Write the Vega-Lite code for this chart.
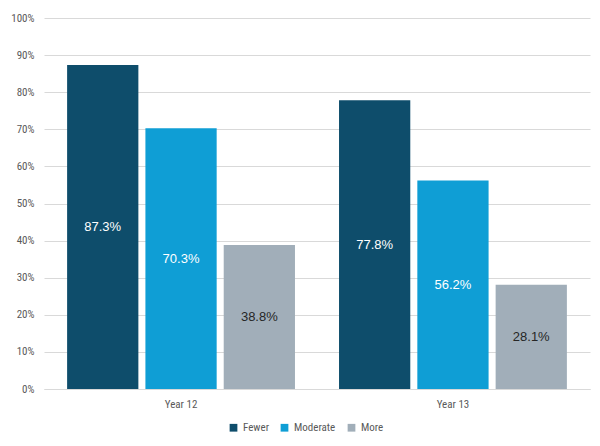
{
  "$schema": "https://vega.github.io/schema/vega-lite/v6.json",
  "width": 600,
  "height": 446,
  "autosize": {"type": "fit", "contains": "padding"},
  "padding": {"left": 10, "right": 10, "top": 12, "bottom": 37},
  "background": "white",
  "config": {
    "view": {"stroke": null},
    "font": "Liberation Sans Narrow, Roboto Condensed, DejaVu Sans Condensed, Liberation Sans"
  },
  "data": {
    "values": [
      {"year": "Year 12", "level": "Fewer", "value": 87.3},
      {"year": "Year 12", "level": "Moderate", "value": 70.3},
      {"year": "Year 12", "level": "More", "value": 38.8},
      {"year": "Year 13", "level": "Fewer", "value": 77.8},
      {"year": "Year 13", "level": "Moderate", "value": 56.2},
      {"year": "Year 13", "level": "More", "value": 28.1}
    ]
  },
  "encoding": {
    "x": {
      "field": "year",
      "type": "nominal",
      "scale": {"paddingInner": 0.162, "paddingOuter": 0.085},
      "axis": {
        "title": null,
        "labelAngle": 0,
        "labelFontSize": 11,
        "labelColor": "#595959",
        "labelPadding": 9,
        "ticks": false,
        "domainColor": "#d9d9d9"
      }
    },
    "xOffset": {
      "field": "level",
      "type": "nominal",
      "sort": ["Fewer", "Moderate", "More"],
      "scale": {"paddingInner": 0.09, "paddingOuter": 0}
    },
    "y": {
      "field": "value",
      "type": "quantitative",
      "scale": {"domain": [0, 100]},
      "axis": {
        "title": null,
        "values": [0, 10, 20, 30, 40, 50, 60, 70, 80, 90, 100],
        "labelOverlap": false,
        "labelExpr": "datum.value + '%'",
        "labelFontSize": 11,
        "labelColor": "#595959",
        "labelPadding": 10,
        "ticks": false,
        "domain": false,
        "gridColor": "#d9d9d9"
      }
    }
  },
  "layer": [
    {
      "mark": {"type": "bar"},
      "encoding": {
        "color": {
          "field": "level",
          "type": "nominal",
          "sort": ["Fewer", "Moderate", "More"],
          "scale": {
            "domain": ["Fewer", "Moderate", "More"],
            "range": ["#0E4D6B", "#0F9ED5", "#A1AEB9"]
          },
          "legend": {
            "title": null,
            "orient": "none",
            "legendX": 184,
            "legendY": 404,
            "direction": "horizontal",
            "symbolType": "square",
            "symbolSize": 60,
            "symbolStrokeWidth": 0,
            "labelFontSize": 11,
            "labelColor": "#595959",
            "columnPadding": 10
          }
        }
      }
    },
    {
      "transform": [
        {"calculate": "datum.value / 2", "as": "mid"},
        {"calculate": "format(datum.value, '.1f') + '%'", "as": "label"}
      ],
      "mark": {"type": "text", "fontSize": 13, "font": "Liberation Sans", "baseline": "middle"},
      "encoding": {
        "y": {"field": "mid", "type": "quantitative"},
        "text": {"field": "label", "type": "nominal"},
        "color": {
          "condition": {"test": "datum.level === 'More'", "value": "#262626"},
          "value": "#ffffff"
        }
      }
    }
  ]
}
